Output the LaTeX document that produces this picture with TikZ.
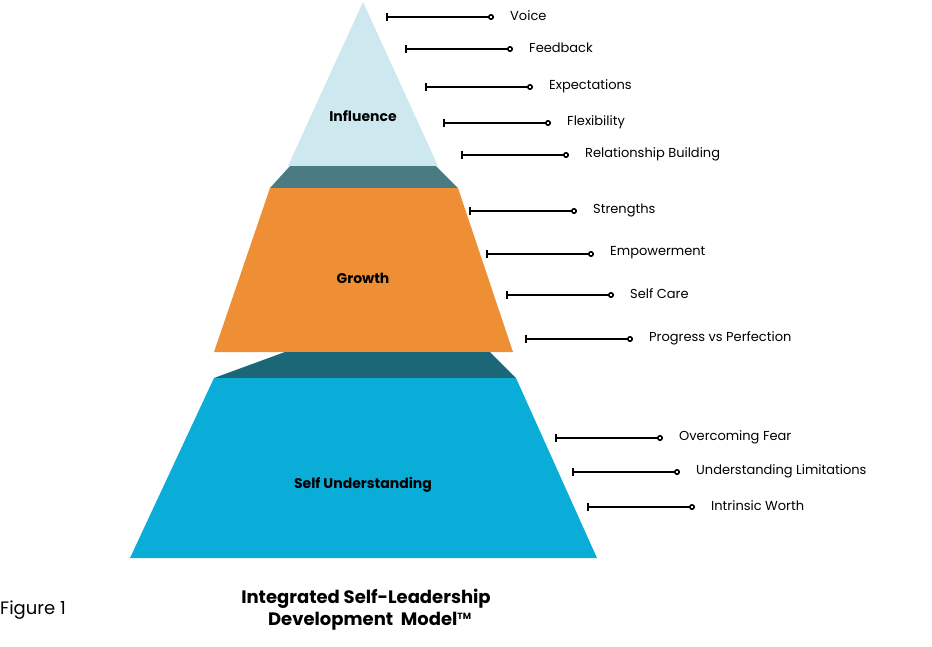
\documentclass[tikz,border=0pt]{standalone}
\usepackage{fontspec}
\setmainfont{Poppins}
\usetikzlibrary{arrows.meta}
\definecolor{influenceblue}{HTML}{CDE8EE}
\definecolor{growthorange}{HTML}{EE8E35}
\definecolor{selfblue}{HTML}{0AACD8}
\definecolor{bandtop}{HTML}{4A7A82}
\definecolor{bandlow}{HTML}{1B6677}
\tikzset{
  trait/.style={line width=1.6pt,{Bar[width=8pt]}-{Circle[open,length=6pt,width=6pt]}},
  traitlabel/.style={anchor=west,font=\fontsize{13}{15}\selectfont,inner sep=0pt},
  level/.style={font=\bfseries\fontsize{14}{16}\selectfont}
}
\begin{document}
\begin{tikzpicture}[x=1pt,y=-1pt]
\useasboundingbox (0,0) rectangle (932,646);

%levels
\fill[influenceblue] (363,2) -- (438,166) -- (288,166) -- cycle;
\fill[bandtop] (290,166) -- (436,166) -- (458,188) -- (270,188) -- cycle;
\fill[growthorange] (270,188) -- (458,188) -- (513,352) -- (214,352) -- cycle;
\fill[bandlow] (285,352) -- (490,352) -- (516,378) -- (214,378) -- cycle;
\fill[selfblue] (214,378) -- (516,378) -- (597,558) -- (130,558) -- cycle;

\node[level] (influence) at (363,116) {Influence};
\node[level] (growth) at (363,278) {Growth};
\node[level] (selfu) at (363,485) {Self Understanding};

%traits
\foreach \x/\y/\t/\n in {386/17/Voice/t1, 405/49/Feedback/t2, 425/87/Expectations/t3,
  443/123/Flexibility/t4, 461/155/Relationship Building/t5, 469/211/Strengths/t6,
  486/254/Empowerment/t7, 506/295/Self Care/t8, 525/339/Progress vs Perfection/t9,
  555/438/Overcoming Fear/t10, 572/472/Understanding Limitations/t11, 587/507/Intrinsic Worth/t12}{%
\coordinate (\n a) at (\x,\y);
\coordinate (\n b) at (\x+108,\y);
\draw[trait] (\n a) -- (\n b);
\node[traitlabel] (\n) at (\x+124,\y-1) {\t};
}

%title
\node[font=\bfseries\fontsize{18}{22}\selectfont,align=center] (title) at (366,610)
  {Integrated Self-Leadership\\ \ \ Development\ \ Model\textsuperscript{\fontsize{9}{9}\selectfont TM}};
\node[anchor=west,inner sep=0pt,font=\fontsize{18}{22}\selectfont] (fig) at (0,610) {Figure 1};
\end{tikzpicture}
\end{document}
